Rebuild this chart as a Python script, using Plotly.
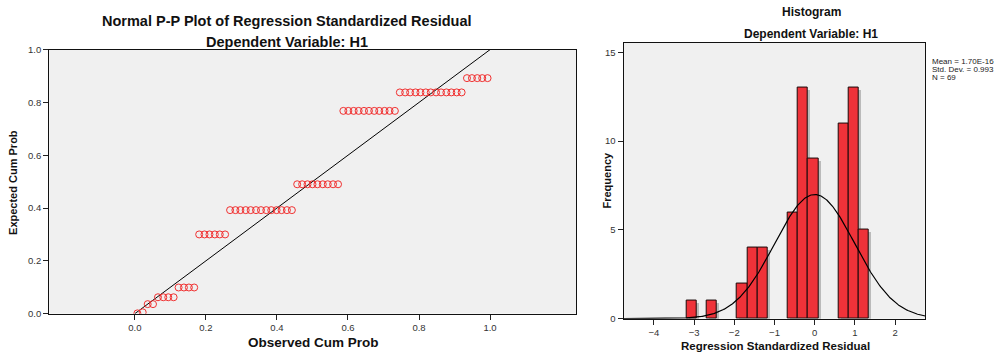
import numpy as np
import plotly.graph_objects as go

# ---------------- data ----------------
# Normal P-P plot: observed cumulative probability of each of the 69 cases
observed_cum_prob = [
    0.007, 0.022, 0.036, 0.051, 0.065, 0.080, 0.094, 0.109, 0.123, 0.138,
    0.152, 0.167, 0.181, 0.196, 0.210, 0.225, 0.239, 0.254, 0.268, 0.283,
    0.297, 0.312, 0.326, 0.341, 0.355, 0.370, 0.384, 0.399, 0.413, 0.428,
    0.442, 0.457, 0.471, 0.486, 0.500, 0.514, 0.529, 0.543, 0.558, 0.572,
    0.587, 0.601, 0.616, 0.630, 0.645, 0.659, 0.674, 0.688, 0.703, 0.717,
    0.732, 0.746, 0.761, 0.775, 0.790, 0.804, 0.819, 0.833, 0.848, 0.862,
    0.877, 0.891, 0.906, 0.920, 0.935, 0.949, 0.964, 0.978, 0.993,
]
# expected cumulative probability levels (tied residuals) and how many cases share each
expected_levels = [0.001, 0.005, 0.036, 0.062, 0.099, 0.300, 0.392, 0.490, 0.768, 0.838, 0.892]
level_counts = [1, 1, 2, 4, 4, 6, 13, 9, 11, 13, 5]
expected_cum_prob = [lv for lv, c in zip(expected_levels, level_counts) for _ in range(c)]

pp_xticks = [0.0, 0.2, 0.4, 0.6, 0.8, 1.0]
pp_xticklabels = ["0.0", "0.2", "0.4", "0.6", "0.8", "1.0"]
pp_yticks = [0.0, 0.2, 0.4, 0.6, 0.8, 1.0]
pp_yticklabels = ["0.0", "0.2", "0.4", "0.6", "0.8", "1.0"]

# Histogram of regression standardized residuals
bin_width = 0.2522
bin_centers = [-3.064, -2.560, -1.803, -1.551, -1.299, -0.542, -0.290, -0.038, 0.719, 0.971, 1.224]
bin_counts = [1, 1, 2, 4, 4, 6, 13, 9, 11, 13, 5]
res_mean = 1.70e-16
res_sd = 0.993
res_n = 69
hist_xticks = [-4, -3, -2, -1, 0, 1, 2]
hist_yticks = [0, 5, 10, 15]

# ---------------- figure ----------------
W, H = 1003, 361
FONT = "Liberation Sans, Arial, Helvetica, sans-serif"

def px(x):
    return x / W

def py(y):
    return 1 - y / H

fig = go.Figure()

# P-P plot: diagonal reference line
fig.add_trace(go.Scatter(
    x=[0, 1], y=[0, 1], mode="lines",
    line=dict(color="black", width=1),
    xaxis="x", yaxis="y", showlegend=False, hoverinfo="skip"))
# P-P points
fig.add_trace(go.Scatter(
    x=observed_cum_prob, y=expected_cum_prob, mode="markers",
    marker=dict(symbol="circle-open", size=7, color="#F03030", line=dict(width=1, color="#F03030")),
    xaxis="x", yaxis="y", showlegend=False))

# Histogram: shadow bars, bars, normal curve
hist_x_range = [-4.75, 2.75]
hist_y_range = [0, 15.55]
shadow_dx = 2 * (hist_x_range[1] - hist_x_range[0]) / 301.6
shadow_dy = 2 * (hist_y_range[1] - hist_y_range[0]) / 284.8
fig.add_trace(go.Bar(
    x=[c + shadow_dx for c in bin_centers], y=[v - shadow_dy for v in bin_counts],
    width=bin_width, marker=dict(color="rgba(120,120,120,0.45)", line=dict(width=0)),
    xaxis="x2", yaxis="y2", showlegend=False, hoverinfo="skip"))
fig.add_trace(go.Bar(
    x=bin_centers, y=bin_counts, width=bin_width,
    marker=dict(color="#EF3239", line=dict(width=1, color="#1a0a0a")),
    xaxis="x2", yaxis="y2", showlegend=False))
curve_x = np.linspace(hist_x_range[0], hist_x_range[1], 400)
curve_y = res_n * bin_width * np.exp(-0.5 * ((curve_x - res_mean) / res_sd) ** 2) / (res_sd * np.sqrt(2 * np.pi))
fig.add_trace(go.Scatter(
    x=curve_x, y=curve_y, mode="lines", line=dict(color="black", width=1.2),
    xaxis="x2", yaxis="y2", showlegend=False, hoverinfo="skip"))

axis_common = dict(
    showline=True, linecolor="#111111", linewidth=1.3, mirror=True,
    showgrid=False, zeroline=False, ticks="outside", ticklen=5, tickwidth=1,
    tickcolor="#222222", tickfont=dict(family=FONT, size=9.5, color="#333333"),
)

fig.update_layout(
    width=W, height=H, autosize=False,
    margin=dict(l=0, r=0, t=0, b=0),
    paper_bgcolor="white", plot_bgcolor="#F0F0F0",
    barmode="overlay", bargap=0,
    xaxis=dict(domain=[px(49.3), px(576)], range=[-0.241, 1.242],
               tickvals=pp_xticks, ticktext=pp_xticklabels, anchor="y", **axis_common),
    yaxis=dict(domain=[py(317.3), py(45)], range=[0, 1],
               tickvals=pp_yticks, ticktext=pp_yticklabels, anchor="x", **axis_common),
    xaxis2=dict(domain=[px(623.7), px(925.3)], range=hist_x_range,
                tickvals=hist_xticks, anchor="y2", **axis_common),
    yaxis2=dict(domain=[py(322.5), py(37.7)], range=hist_y_range,
                tickvals=hist_yticks, anchor="x2", **axis_common),
)

def label(text, x, y, size, bold=True, angle=0, xanchor="center", color="#111111"):
    fig.add_annotation(
        text=text, x=px(x), y=py(y), xref="paper", yref="paper",
        xanchor=xanchor, yanchor="middle", showarrow=False, textangle=angle,
        font=dict(family=FONT, size=size, color=color, weight="bold" if bold else "normal"))

label("Normal P-P Plot of Regression Standardized Residual", 287, 15, 14.5)
label("Dependent Variable: H1", 287, 37, 14.5)
label("Observed Cum Prob", 313, 347, 13.5)
label("Expected Cum Prob", 13.5, 182, 11, angle=-90)

label("Histogram", 811, 6.5, 12)
label("Dependent Variable: H1", 811, 28.5, 12)
label("Regression Standardized Residual", 775, 351, 11.5)
label("Frequency", 607, 180, 11, angle=-90)

label("Mean = 1.70E-16", 930, 57.5, 8, bold=False, xanchor="left", color="#222222")
label("Std. Dev. = 0.993", 930, 65.5, 8, bold=False, xanchor="left", color="#222222")
label("N = 69", 930, 73.5, 8, bold=False, xanchor="left", color="#222222")

fig.write_html(
    "out.html",
    config={"displayModeBar": False},
    post_script="document.body.style.margin='0';document.body.style.overflow='hidden';",
)
